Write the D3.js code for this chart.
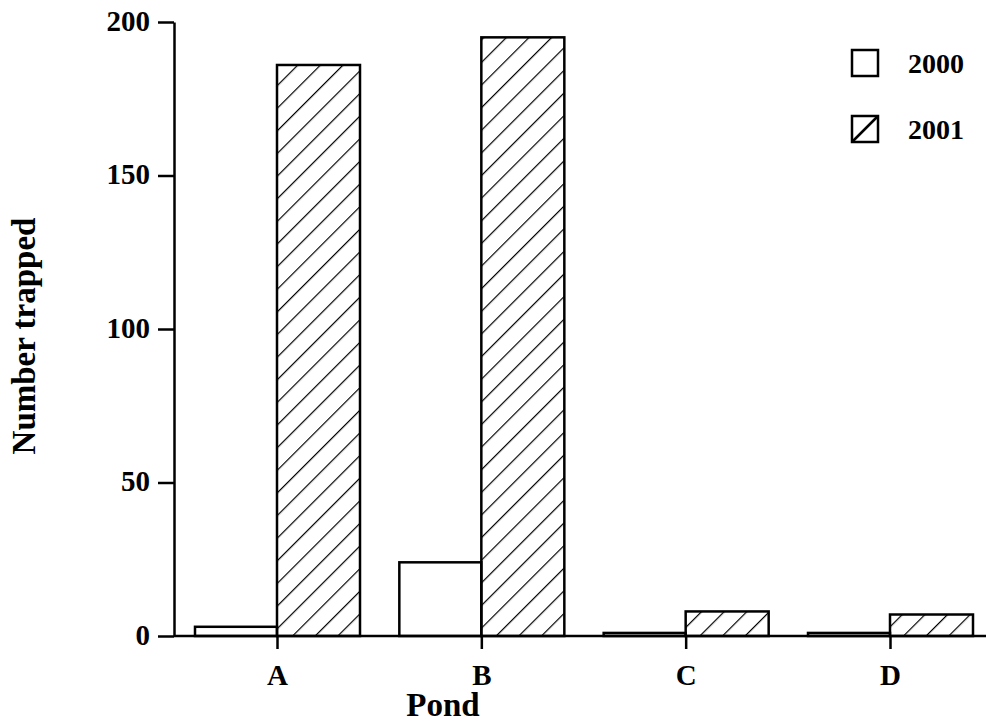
<!DOCTYPE html>
<html>
<head>
<meta charset="utf-8">
<script src="https://cdn.jsdelivr.net/npm/d3@7"></script>
<style>
  body { margin: 0; background: #fff; }
  text { font-family: "Liberation Serif", "Times New Roman", serif; font-weight: bold; fill: #000; }
</style>
</head>
<body>
<script>
// data
var ponds = ["A", "B", "C", "D"]
var years = ["2000", "2001"]
var counts2000 = [3, 24, 1, 1]
var counts2001 = [186, 195, 8, 7]
var yTicks = [0, 50, 100, 150, 200]

var width = 986, height = 726
var axisX = 174, baseY = 636, topY = 22
var barW = 82

var svg = d3.select("body").append("svg")
  .attr("width", width)
  .attr("height", height)

// hatch for 2001, "/" direction
var defs = svg.append("defs")
defs.append("pattern")
  .attr("id", "hatch")
  .attr("patternUnits", "userSpaceOnUse")
  .attr("width", 16)
  .attr("height", 16)
  .attr("patternTransform", "rotate(45)")
  .append("line")
  .attr("x1", 0).attr("y1", 0)
  .attr("x2", 0).attr("y2", 16)
  .attr("stroke", "#000")
  .attr("stroke-width", 2.4)

var y = d3.scaleLinear().domain([0, 200]).range([baseY, topY])
var x = d3.scalePoint().domain(ponds).range([277, 890])

var rows = ponds.map(function(p, i) {
  return { pond: p, v2000: counts2000[i], v2001: counts2001[i] }
})

// bars
var g = svg.selectAll("g.pond")
  .data(rows)
  .enter().append("g")
  .attr("class", "pond")

g.append("rect")
  .attr("x", function(d) { return x(d.pond) - barW })
  .attr("y", function(d) { return y(d.v2000) })
  .attr("width", barW)
  .attr("height", function(d) { return baseY - y(d.v2000) })
  .attr("fill", "#fff")
  .attr("stroke", "#000")
  .attr("stroke-width", 2.5)

g.append("rect")
  .attr("x", function(d) { return x(d.pond) })
  .attr("y", function(d) { return y(d.v2001) })
  .attr("width", barW + 1)
  .attr("height", function(d) { return baseY - y(d.v2001) })
  .attr("fill", "url(#hatch)")
  .attr("stroke", "#000")
  .attr("stroke-width", 2.5)

// y axis
var yAxis = svg.append("g")
  .attr("transform", "translate(" + axisX + ",0)")
  .call(d3.axisLeft(y).tickValues(yTicks).tickSize(16).tickSizeOuter(0).tickPadding(8))
yAxis.select(".domain").attr("stroke-width", 2.5)
yAxis.selectAll(".tick line").attr("stroke-width", 2.5)
yAxis.selectAll(".tick text")
  .style("font-size", "29px")
  .attr("dy", "0.28em")

// x axis
svg.append("line")
  .attr("x1", axisX).attr("x2", width)
  .attr("y1", baseY).attr("y2", baseY)
  .attr("stroke", "#000")
  .attr("stroke-width", 2.5)

var xAxis = svg.append("g")
  .attr("transform", "translate(0," + baseY + ")")
  .call(d3.axisBottom(x).tickSize(13).tickPadding(15))
xAxis.select(".domain").remove()
xAxis.selectAll(".tick line").attr("stroke-width", 2.5)
xAxis.selectAll(".tick text").style("font-size", "29px")

// axis titles
svg.append("text")
  .attr("x", 443)
  .attr("y", 716)
  .attr("text-anchor", "middle")
  .style("font-size", "33px")
  .text("Pond")

svg.append("text")
  .attr("transform", "translate(35,336) rotate(-90)")
  .attr("text-anchor", "middle")
  .style("font-size", "33px")
  .text("Number trapped")

// legend
var legend = svg.selectAll("g.legend")
  .data(years)
  .enter().append("g")
  .attr("class", "legend")
  .attr("transform", function(d, i) { return "translate(852," + (50 + i * 66) + ")" })

legend.append("rect")
  .attr("width", 26)
  .attr("height", 26)
  .attr("fill", "#fff")
  .attr("stroke", "#000")
  .attr("stroke-width", 2.5)

legend.filter(function(d, i) { return i === 1 })
  .append("line")
  .attr("x1", 0).attr("y1", 26)
  .attr("x2", 26).attr("y2", 0)
  .attr("stroke", "#000")
  .attr("stroke-width", 2.5)

legend.append("text")
  .attr("x", 56)
  .attr("y", 23)
  .style("font-size", "28px")
  .text(function(d) { return d })
</script>
</body>
</html>
